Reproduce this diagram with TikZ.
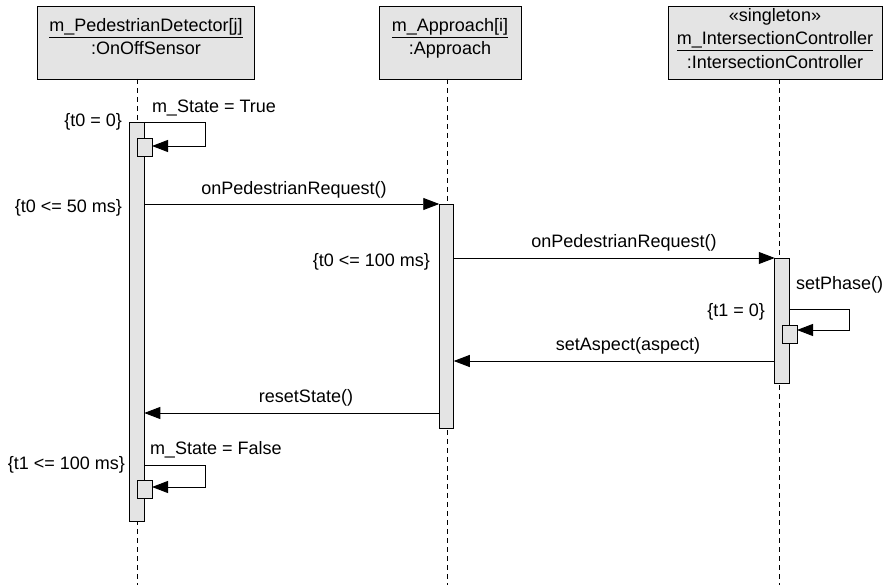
\documentclass[tikz,border=0pt]{standalone}
\usepackage{fontspec}
\setmainfont{Liberation Sans}
\usetikzlibrary{arrows.meta}
\definecolor{boxgray}{HTML}{E4E4E4}
\begin{document}
\begin{tikzpicture}[x=1pt,y=-1pt,
  font=\fontsize{18}{21}\selectfont,
  line width=0.9pt,
  hdr/.style={draw, fill=boxgray, inner sep=0pt, outer sep=0pt},
  bar/.style={draw, fill=boxgray, minimum width=14.5pt, inner sep=0pt, outer sep=0pt},
  sbox/.style={draw, fill=boxgray, minimum width=15pt, minimum height=18pt, inner sep=0pt, outer sep=0pt},
  life/.style={dash pattern=on 5pt off 4pt},
  msg/.style={-{Triangle[length=16pt,width=12pt]}},
  lbl/.style={inner sep=0pt, outer sep=0pt}]
\useasboundingbox (0,0) rectangle (887,585);

% headers
\node[hdr, minimum width=217pt, minimum height=73pt] (h1) at (145.5,42.5) {};
\node[hdr, minimum width=142pt, minimum height=73pt] (h2) at (450,42.5) {};
\node[hdr, minimum width=214pt, minimum height=73pt] (h3) at (775,42.5) {};
\node[lbl, anchor=base] (h1a) at (146,32) {\underline{m\_PedestrianDetector[j]}};
\node[lbl, anchor=base] (h1b) at (146,55) {:OnOffSensor};
\node[lbl, anchor=base] (h2a) at (450,32) {\underline{m\_Approach[i]}};
\node[lbl, anchor=base] (h2b) at (450,55) {:Approach};
\node[lbl, anchor=base] (h3a) at (775,22) {«singleton»};
\node[lbl, anchor=base] (h3b) at (775,45) {\underline{m\_IntersectionController}};
\node[lbl, anchor=base] (h3c) at (775,69) {:IntersectionController};

% lifelines
\coordinate (e1) at (137,585);
\coordinate (e2) at (447,585);
\coordinate (e3) at (779,585);
\draw[life] (h1.south -| e1) -- (e1);
\draw[life] (h2.south -| e2) -- (e2);
\draw[life] (h3.south -| e3) -- (e3);

% activation bars
\node[bar, minimum height=399pt] (barA) at (137,321.5) {};
\node[bar, minimum height=224pt] (barB) at (446.5,316) {};
\node[bar, minimum height=125pt] (barC) at (782,320.5) {};
\node[sbox] (sA1) at (144.5,147) {};
\node[sbox] (sC1) at (789.5,334) {};
\node[sbox] (sA2) at (144.5,489.5) {};

% coordinates for message heights
\coordinate (y1) at (0,122);
\coordinate (y1b) at (0,146);
\coordinate (y2) at (0,204);
\coordinate (y3) at (0,258);
\coordinate (y4) at (0,309);
\coordinate (y4b) at (0,330);
\coordinate (y5) at (0,361);
\coordinate (y6) at (0,413);
\coordinate (y7) at (0,465);
\coordinate (y7b) at (0,487);
\coordinate (xa) at (205,0);
\coordinate (xc) at (849,0);

% messages
\draw[msg] (barA.east |- y1) -- (xa |- y1) -- (xa |- y1b) -- (sA1.east |- y1b);
\draw[msg] (barA.east |- y2) -- (barB.west |- y2);
\draw[msg] (barB.east |- y3) -- (barC.west |- y3);
\draw[msg] (barC.east |- y4) -- (xc |- y4) -- (xc |- y4b) -- (sC1.east |- y4b);
\draw[msg] (barC.west |- y5) -- (barB.east |- y5);
\draw[msg] (barB.west |- y6) -- (barA.east |- y6);
\draw[msg] (barA.east |- y7) -- (xa |- y7) -- (xa |- y7b) -- (sA2.east |- y7b);

% labels
\node[lbl, anchor=west] (l1) at (152,108) {m\_State = True};
\node[lbl, anchor=east] (c1) at (122,122) {\{t0 = 0\}};
\node[lbl] (l2) at (294,190) {onPedestrianRequest()};
\node[lbl, anchor=east] (c2) at (122,208) {\{t0 <= 50 ms\}};
\node[lbl] (l3) at (624,243) {onPedestrianRequest()};
\node[lbl, anchor=east] (c3) at (430,262) {\{t0 <= 100 ms\}};
\node[lbl, anchor=west] (l4) at (796,285) {setPhase()};
\node[lbl, anchor=east] (c4) at (765,312) {\{t1 = 0\}};
\node[lbl] (l5) at (628,346) {setAspect(aspect)};
\node[lbl] (l6) at (306,398) {resetState()};
\node[lbl, anchor=west] (l7) at (150,450) {m\_State = False};
\node[lbl, anchor=east] (c7) at (125,465) {\{t1 <= 100 ms\}};
\end{tikzpicture}
\end{document}
